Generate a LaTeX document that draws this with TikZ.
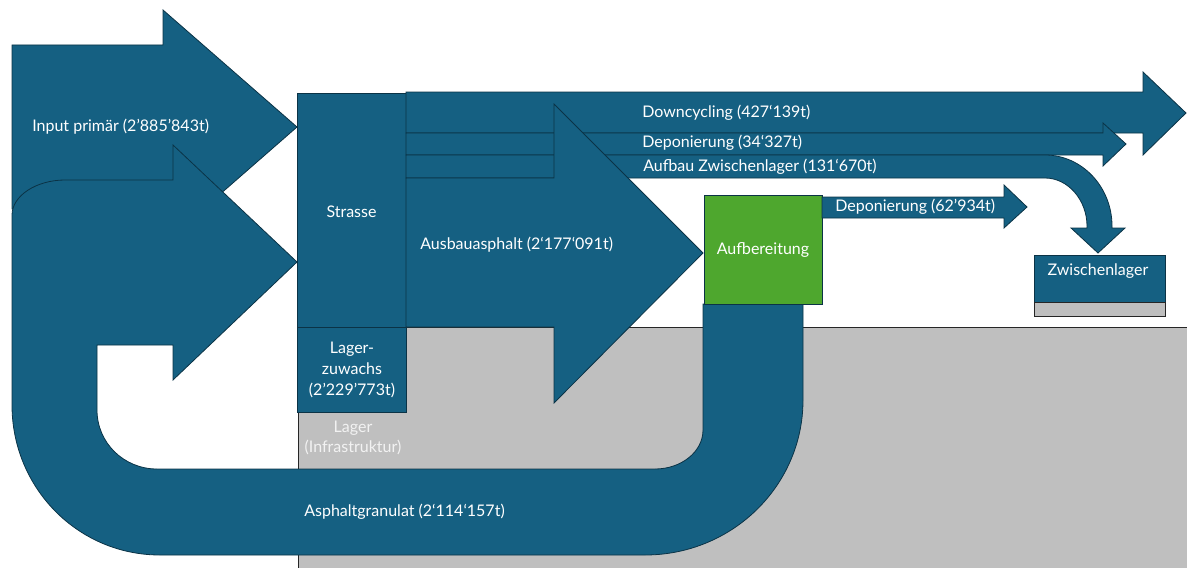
\documentclass[tikz,border=0pt]{standalone}
\usepackage{fontspec}
\setmainfont{Lato}
\definecolor{flowblue}{HTML}{156082}
\definecolor{flowedge}{HTML}{0B3346}
\definecolor{stockgray}{HTML}{BFBFBF}
\definecolor{procgreen}{HTML}{4EA72E}
\begin{document}
\begin{tikzpicture}[x=0.75pt,y=-0.75pt,
  flow/.style={fill=flowblue,draw=flowedge,line width=0.6pt,line join=miter},
  stockbox/.style={fill=stockgray,draw=black!85,line width=0.6pt},
  procbox/.style={fill=procgreen,draw=flowedge,line width=0.6pt},
  lbl/.style={text=white,font=\fontsize{12}{15.5}\selectfont,inner sep=0pt,align=center},
  lblw/.style={lbl,anchor=west}]
\useasboundingbox (0,0) rectangle (1191,567);

% ground stock (infrastructure)
\fill[stockgray] (298,327) rectangle (1187,575);
\draw[black!85,line width=0.6pt] (298,575) -- (298,327) -- (1187,327);

% primary input
\draw[flow] (12,45) -- (163,45) -- (163,10) -- (297,127) -- (163,244) -- (163,209) -- (12,209) -- cycle;

% recycled granulate loop back into the road
\draw[flow] (297,262) -- (173,145) -- (173,180) -- (65,180)
  .. controls (36,180) and (12,196) .. (12,215) -- (12,405)
  .. controls (12,488) and (78,555) .. (160,555) -- (645,555)
  .. controls (732,555) and (803,486) .. (803,400) -- (803,304) -- (703,304) -- (703,430)
  .. controls (703,452) and (681,469) .. (655,469) -- (157,469)
  .. controls (124,469) and (97,443) .. (97,410) -- (97,345) -- (173,345) -- (173,380) -- cycle;

% road and stock growth
\draw[flow] (297,93) rectangle (406,327);
\draw[flow] (297,327) rectangle (406,412);

% outgoing flows of the road
\draw[flow] (406,92) -- (1143,92) -- (1143,72) -- (1186,113) -- (1143,155) -- (1143,133) -- (406,133) -- cycle;
\draw[flow] (406,133) -- (1103,133) -- (1103,123) -- (1126,144) -- (1103,166) -- (1103,155) -- (406,155) -- cycle;
\draw[flow] (406,155) -- (1045,155) .. controls (1082,155) and (1112,187) .. (1112,226)
  -- (1112,228) -- (1125,228) -- (1098,253) -- (1071,228) -- (1087,228) -- (1087,226)
  .. controls (1087,200) and (1068,178) .. (1045,178) -- (406,178) -- cycle;
\draw[flow] (406,178) -- (554,178) -- (554,104) -- (703,253) -- (554,403) -- (554,327) -- (406,327) -- cycle;

% processing
\draw[procbox] (704,195) rectangle (822,304);
\draw[flow] (822,197) -- (1004,197) -- (1004,185) -- (1027,207) -- (1004,228) -- (1004,218) -- (822,218) -- cycle;

% intermediate storage
\draw[flow] (1034,255) rectangle (1165,302);
\draw[stockbox] (1034,302) rectangle (1165,316);

% labels
\node[lblw] (inp) at (32,127) {Input primär (2’885’843t)};
\node[lbl] (strasse) at (351.5,212) {Strasse};
\node[lbl] (zuwachs) at (352,370) {Lager-\\zuwachs\\(2’229’773t)};
\node[lbl,text=white!95!black] (lager) at (353,438) {Lager\\(Infrastruktur)};
\node[lblw] (down) at (642,113) {Downcycling (427‘139t)};
\node[lblw] (dep1) at (642,143) {Deponierung (34‘327t)};
\node[lblw] (aufbau) at (643,167) {Aufbau Zwischenlager (131‘670t)};
\node[lblw] (ausbau) at (420,245) {Ausbauasphalt (2‘177‘091t)};
\node[lbl] (aufber) at (763,250) {Aufbereitung};
\node[lblw] (dep2) at (835,207) {Deponierung (62’934t)};
\node[lbl] (zwl) at (1098,271) {Zwischenlager};
\node[lblw] (granulat) at (304,512) {Asphaltgranulat (2‘114‘157t)};
\end{tikzpicture}
\end{document}
